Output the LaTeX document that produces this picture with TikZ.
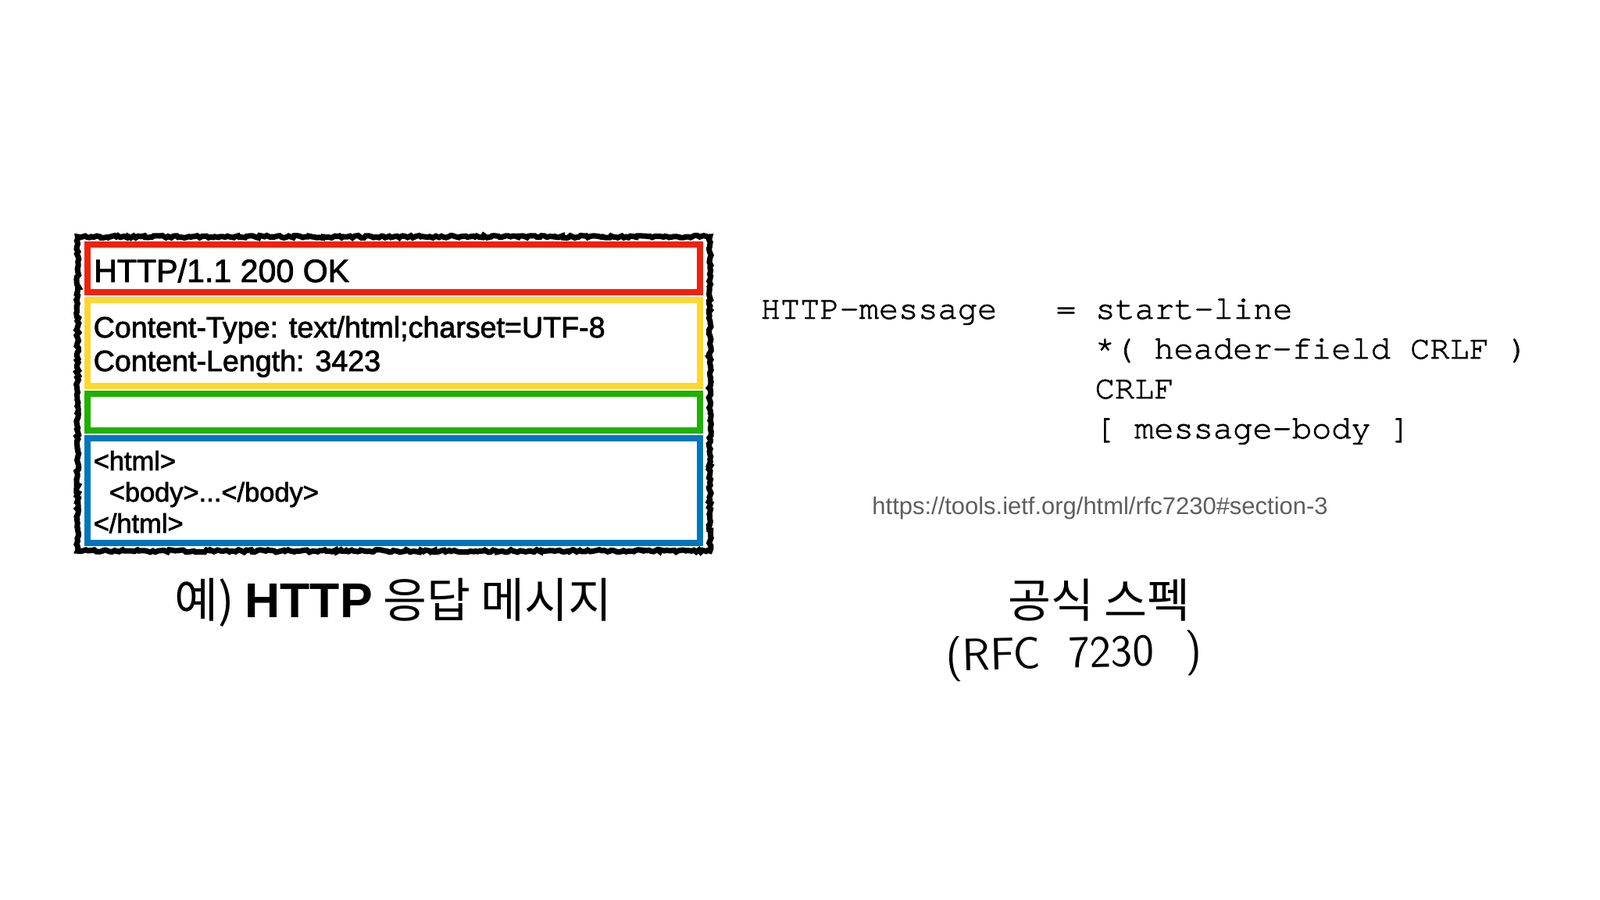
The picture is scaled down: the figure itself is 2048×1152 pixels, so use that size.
\documentclass[tikz,border=0pt]{standalone}
\usepackage{fontspec}
\setmainfont{Liberation Sans}
\setmonofont{texgyrecursor-regular.otf}[Ligatures=NoCommon,FakeBold=1.8]
\newfontfamily\korean{Noto Sans CJK KR}
\newfontfamily\boxtext{Liberation Sans}[FakeBold=2]
\usepackage{xcolor}
\usetikzlibrary{positioning,fit,decorations.pathmorphing}
\definecolor{startred}{RGB}{238,34,12}
\definecolor{headeryellow}{RGB}{255,215,48}
\definecolor{crlfgreen}{RGB}{29,177,0}
\definecolor{bodyblue}{RGB}{0,118,186}
\definecolor{linkgray}{RGB}{94,94,94}

\begin{document}
\begin{tikzpicture}[x=0.01cm,y=-0.01cm,
    part/.style={draw,line width=2.28pt,minimum width=7.84cm,inner sep=0pt},
    sketch/.style={draw,line width=2pt,decorate,
                   decoration={random steps,segment length=0.9pt,amplitude=0.45pt}},
    msg/.style={anchor=base west,inner sep=0pt},
    abnf/.style={anchor=base west,inner sep=0pt,
                 font=\ttfamily\fontsize{11.95}{14.5}\selectfont},
    caption/.style={anchor=base,inner sep=0pt,font=\fontsize{17}{20}\selectfont},
  ]
    \path[use as bounding box,fill=white](0,0) rectangle (2048,1152);
    \node[part,draw=startred,minimum height=0.61cm](start) at (504,343.5){};
    \node[part,draw=headeryellow,minimum height=1.10cm,
      below=0.02cm of start](headers){};
    \node[part,draw=crlfgreen,minimum height=0.47cm,
      below=0.02cm of headers](empty){};
    \node[part,draw=bodyblue,minimum height=1.34cm,
      below=0.02cm of empty](body){};
    \node[sketch,fit=(start)(body),inner xsep=0.085cm,inner ysep=0.06cm](message){};
    \node[msg,font=\boxtext\fontsize{11.7}{14}\selectfont](status) at (119.5,361)
      {HTTP/1.1 200 OK};
    \node[msg,font=\boxtext\fontsize{10.7}{13}\selectfont](ctype) at (119,432)
      {Content-Type: text/html;charset=UTF-8};
    \node[msg,font=\boxtext\fontsize{10.7}{13}\selectfont](clength) at (119,475)
      {Content-Length: 3423};
    \node[msg,font=\boxtext\fontsize{9.8}{12}\selectfont](htmlopen) at (119,602){<html>};
    \node[msg,font=\boxtext\fontsize{9.8}{12}\selectfont](bodytag) at (139,642)
      {<body>...</body>};
    \node[msg,font=\boxtext\fontsize{9.8}{12}\selectfont](htmlclose) at (119,682){</html>};
    \node[caption,font=\fontsize{17.3}{20}\selectfont](example) at (503.5,790)
      {\korean 예) {\rmfamily\bfseries\fontsize{17.8}{20}\selectfont HTTP} 응답 메시지};
    \node[abnf](rule) at (973,408){HTTP-message\hspace{1.8em}= start-line};
    \node[abnf](rulefields) at (1401,459){*( header-field CRLF )};
    \node[abnf](rulecrlf) at (1401,510){CRLF};
    \node[abnf](rulebody) at (1401,561){[ message-body ]};
    \node[caption,text=linkgray,font=\fontsize{8.8}{10}\selectfont](url) at (1408,658)
      {https://tools.ietf.org/html/rfc7230\#section-3};
    \node[caption,font=\korean\fontsize{17}{20}\selectfont](spec) at (1407,790){공식 스펙};
    \node[msg,rotate=1.5,font=\sffamily\fontsize{16.5}{20}\selectfont](rfc) at (1211,859)
      {(RFC\hspace{0.36cm}7230\hspace{0.40cm})};
\end{tikzpicture}
\end{document}
